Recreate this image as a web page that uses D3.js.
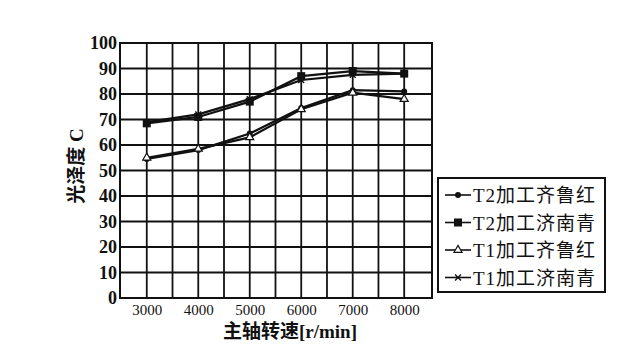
<!DOCTYPE html>
<html>
<head>
<meta charset="utf-8">
<script src="https://cdn.jsdelivr.net/npm/d3@7"></script>
<style>
  body { margin: 0; background: #fff; }
</style>
</head>
<body>
<div class="chart"></div>
<script>
// data
var speeds = [3000, 4000, 5000, 6000, 7000, 8000];
var t2Qilu = [54.5, 58, 64.5, 74.5, 81.5, 81];
var t2Jinan = [68.5, 71, 77, 87, 89, 88];
var t1Qilu = [55, 58.5, 63, 74, 80.5, 78];
var t1Jinan = [69, 72, 78, 85.5, 87.5, 88];
var seriesNames = ["T2加工齐鲁红", "T2加工济南青", "T1加工齐鲁红", "T1加工济南青"];
var yTicks = [0, 10, 20, 30, 40, 50, 60, 70, 80, 90, 100];
var xTicks = [3000, 4000, 5000, 6000, 7000, 8000];

var width = 637, height = 353;
var plot = {left: 120, right: 432, top: 43, bottom: 298};
var serif = "'Liberation Serif', 'DejaVu Serif', 'Noto Sans CJK SC', serif";

var svg = d3.select(".chart").append("svg")
  .attr("width", width)
  .attr("height", height);

var x = d3.scaleLinear().domain([2480, 8540]).range([plot.left, plot.right]);
var y = d3.scaleLinear().domain([0, 100]).range([plot.bottom, plot.top]);

// grid
var grid = svg.append("g").attr("stroke", "#111").attr("stroke-width", 1.8);
grid.selectAll(".vg")
  .data(d3.range(3000, 8001, 500))
  .enter().append("line")
  .attr("x1", d => x(d)).attr("x2", d => x(d))
  .attr("y1", plot.top).attr("y2", plot.bottom);
grid.selectAll(".hg")
  .data(yTicks.slice(1, -1))
  .enter().append("line")
  .attr("x1", plot.left).attr("x2", plot.right)
  .attr("y1", d => y(d)).attr("y2", d => y(d));
svg.append("rect")
  .attr("x", plot.left).attr("y", plot.top)
  .attr("width", plot.right - plot.left).attr("height", plot.bottom - plot.top)
  .attr("fill", "none").attr("stroke", "#111").attr("stroke-width", 2);

// axes
svg.append("g")
  .attr("transform", "translate(" + plot.left + ",0)")
  .call(d3.axisLeft(y).tickValues(yTicks).tickSize(0).tickPadding(3))
  .call(g => g.select(".domain").remove())
  .call(g => g.selectAll("text")
    .style("font-family", serif).style("font-size", "18px").style("font-weight", "bold")
    .attr("fill", "#111"));

svg.append("g")
  .attr("transform", "translate(0," + plot.bottom + ")")
  .call(d3.axisBottom(x).tickValues(xTicks).tickFormat(d3.format("d")).tickSize(0).tickPadding(6))
  .call(g => g.select(".domain").remove())
  .call(g => g.selectAll("text")
    .style("font-family", serif).style("font-size", "15px")
    .attr("fill", "#111"));

svg.append("text")
  .attr("transform", "translate(83,166) rotate(-90)")
  .attr("text-anchor", "middle")
  .style("font-family", serif).style("font-size", "19px").style("font-weight", "bold")
  .attr("fill", "#111")
  .text("光泽度 C");

svg.append("text")
  .attr("x", 290).attr("y", 338)
  .attr("text-anchor", "middle")
  .style("font-family", serif).style("font-size", "19px").style("font-weight", "bold")
  .attr("fill", "#111")
  .text("主轴转速[r/min]");

// lines
var series = [
  {name: seriesNames[0], values: t2Qilu, marker: "dot"},
  {name: seriesNames[1], values: t2Jinan, marker: "square"},
  {name: seriesNames[2], values: t1Qilu, marker: "triangle"},
  {name: seriesNames[3], values: t1Jinan, marker: "cross"}
];

var line = d3.line().x((d, i) => x(speeds[i])).y(d => y(d));

function drawMarker(g, type, cx, cy) {
  if (type === "dot") {
    g.append("circle").attr("cx", cx).attr("cy", cy).attr("r", 3).attr("fill", "#111");
  } else if (type === "square") {
    g.append("rect").attr("x", cx - 4).attr("y", cy - 4).attr("width", 8).attr("height", 8).attr("fill", "#111");
  } else if (type === "triangle") {
    g.append("path").attr("d", d3.symbol(d3.symbolTriangle, 28)())
      .attr("transform", "translate(" + cx + "," + cy + ")")
      .attr("fill", "#fff").attr("stroke", "#111").attr("stroke-width", 1.2);
  } else {
    g.append("path").attr("d", d3.symbol(d3.symbolX, 24)())
      .attr("transform", "translate(" + cx + "," + cy + ")")
      .attr("fill", "none").attr("stroke", "#111").attr("stroke-width", 1.4);
  }
}

series.forEach(s => {
  var g = svg.append("g");
  g.append("path")
    .datum(s.values)
    .attr("d", line)
    .attr("fill", "none")
    .attr("stroke", "#111")
    .attr("stroke-width", 2.2);
  s.values.forEach((v, i) => drawMarker(g, s.marker, x(speeds[i]), y(v)));
});

// legend
var legend = svg.append("g").attr("id", "legend");
legend.append("rect")
  .attr("x", 438).attr("y", 178).attr("width", 167).attr("height", 114)
  .attr("fill", "#fff").attr("stroke", "#111").attr("stroke-width", 2);

series.forEach((s, i) => {
  var ly = 195 + i * 27.5;
  var g = legend.append("g");
  g.append("line").attr("x1", 445).attr("x2", 471).attr("y1", ly).attr("y2", ly)
    .attr("stroke", "#111").attr("stroke-width", 1.6);
  drawMarker(g, s.marker, 458, ly);
  g.append("text")
    .attr("x", 473).attr("y", ly + 7)
    .style("font-family", serif).style("font-size", "19px").style("letter-spacing", "1px")
    .attr("fill", "#111")
    .text(s.name);
});
</script>
</body>
</html>
